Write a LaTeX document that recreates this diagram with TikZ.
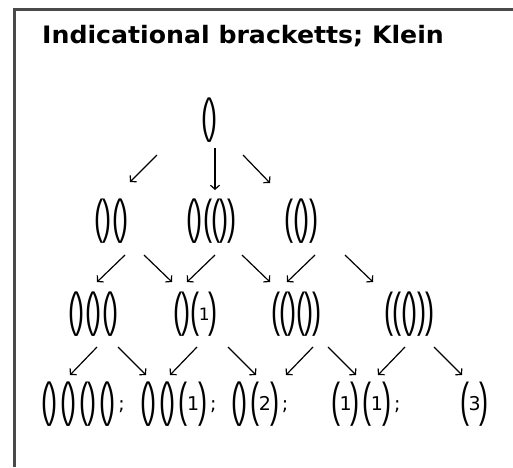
\documentclass[tikz,border=0pt]{standalone}
\usepackage{fontspec}
\usepackage{graphicx}
\setmainfont{DejaVu Sans}
\newfontfamily\titlefont[FakeStretch=1.05]{DejaVu Sans}
\newfontfamily\parfont{Liberation Sans}
\usetikzlibrary{arrows.meta,calc}
\definecolor{framegray}{HTML}{4A4A4A}
% tall brackets
\newlength\brgap
\setlength\brgap{0.5pt}
\newcommand\brglyph[1]{\raisebox{-6pt}{\scalebox{1.6}[2.8]{\parfont\fontsize{17}{20}\selectfont#1}}}
\newcommand\bro{\brglyph{(}\kern-0.7pt}
\newcommand\brc{\kern-0.9pt\brglyph{)}\kern\brgap}
\newcommand\emp{\bro\brc}

\begin{document}
\begin{tikzpicture}[x=1pt,y=-1pt,
    form/.style={inner sep=0pt,font=\fontsize{17}{20}\selectfont},
    wideform/.style={inner sep=0pt,anchor=west,font=\fontsize{19}{23}\selectfont\setlength\brgap{2.8pt}},
    arr/.style={-{Straight Barb[length=4pt,width=9pt]},line width=1.2pt}]
\useasboundingbox (0,0) rectangle (513,467);
\draw[framegray,line width=2.2pt] (14.5,467) -- (14.5,9.5) -- (513,9.5);
\node[anchor=base west,inner sep=0pt,font=\titlefont\bfseries\fontsize{24}{28}\selectfont] (title) at (42,43.5) {Indicational bracketts; Klein};

% rows
\node[form] (n0) at (210,120) {\emp};

\node[form] (n10) at (112,221) {\emp\emp};
\node[form] (n11) at (212,221) {\emp\bro\emp\brc};
\node[form] (n12) at (302,221) {\bro\emp\brc};

\node[form] (n20) at (94,314) {\emp\emp\emp};
\node[form] (n21) at (196,314) {\emp\bro1\brc};
\node[form] (n22) at (297,314) {\bro\emp\emp\brc};
\node[form] (n23) at (410,314) {\bro\bro\emp\brc\brc};

\node[wideform] (n30) at (41,404.5) {\emp\emp\emp\emp;};
\node[wideform] (n31) at (140,404.5) {\emp\emp\bro1\brc;};
\node[wideform] (n32) at (231,404.5) {\emp\bro2\brc;};
\node[wideform] (n33) at (331,404.5) {\bro1\brc\bro1\brc;};
\node[wideform] (n34) at (460,404.5) {\bro3\brc};

% arrows
\draw[arr] ($(n0)+(-53,35)$) -- ++(-27,27);
\draw[arr] ($(n0)+(5,28)$) -- ++(0,42);
\draw[arr] ($(n0)+(33,35)$) -- ++(27,28);

\draw[arr] ($(n10)+(13,34)$) -- ++(-28,27);
\draw[arr] ($(n10)+(32,34)$) -- ++(28,27);
\draw[arr] ($(n11)+(3,34)$) -- ++(-28,27);
\draw[arr] ($(n11)+(30,34)$) -- ++(28,27);
\draw[arr] ($(n12)+(13,34)$) -- ++(-28,27);
\draw[arr] ($(n12)+(43,34)$) -- ++(28,27);

\draw[arr] ($(n20)+(3,33)$) -- ++(-27,28);
\draw[arr] ($(n20)+(24,33)$) -- ++(28,28);
\draw[arr] ($(n21)+(1,33)$) -- ++(-27,28);
\draw[arr] ($(n21)+(32,33)$) -- ++(28,28);
\draw[arr] ($(n22)+(16,33)$) -- ++(-27,28);
\draw[arr] ($(n22)+(31,33)$) -- ++(28,28);
\draw[arr] ($(n23)+(-5,33)$) -- ++(-27,28);
\draw[arr] ($(n23)+(24,33)$) -- ++(28,28);
\end{tikzpicture}
\end{document}
